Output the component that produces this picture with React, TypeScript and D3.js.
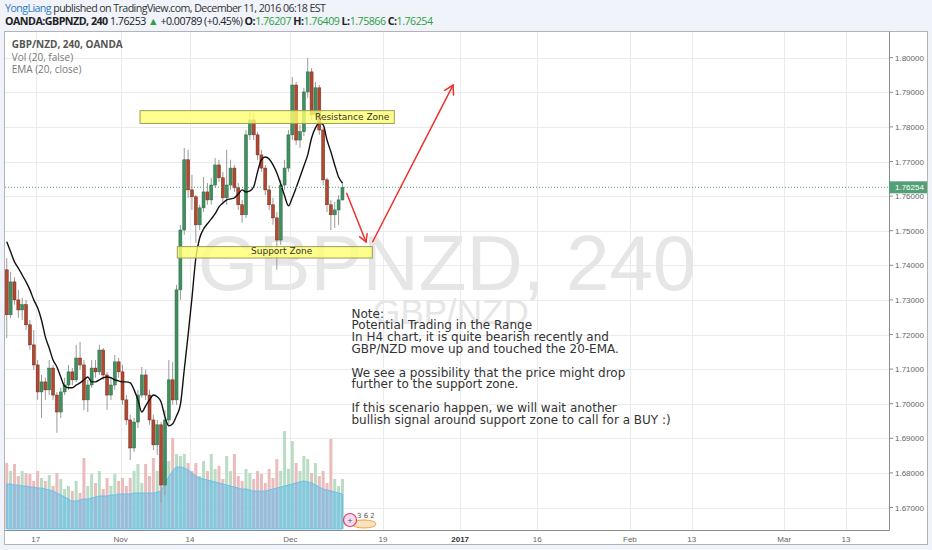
import * as d3 from "d3";

// two candles per trading session; candle k sits at session index k / 2 + 0.25
const opens = [
  1.7387, 1.7257, 1.7352, 1.73, 1.7271, 1.7286, 1.7228, 1.717, 1.7112, 1.7034,
  1.7063, 1.704, 1.7103, 1.7025, 1.6976, 1.7034, 1.7054, 1.7092, 1.7069, 1.7132,
  1.7112, 1.7011, 1.7054, 1.7103, 1.7092, 1.7155, 1.7083, 1.7025, 1.7054, 1.7121,
  1.7092, 1.7011, 1.6953, 1.6872, 1.6947, 1.7025, 1.7083, 1.7025, 1.6953, 1.6881,
  1.6939, 1.6765, 1.6953, 1.7069, 1.7011, 1.7329, 1.7502, 1.7705, 1.7618, 1.7598,
  1.7517, 1.7566, 1.7612, 1.7589, 1.7632, 1.769, 1.7653, 1.7595, 1.7632, 1.7681,
  1.7624, 1.7575, 1.7546, 1.7777, 1.782, 1.7777, 1.7719, 1.7681, 1.7618, 1.7575,
  1.7537, 1.7473, 1.7632, 1.7681, 1.7777, 1.7921, 1.7762, 1.7786, 1.7901, 1.7959,
  1.7835, 1.7913, 1.7791, 1.7647, 1.7575, 1.7546, 1.756, 1.7589,
];
const highs = [
  1.7421, 1.7381, 1.7366, 1.7329, 1.7306, 1.73, 1.7242, 1.7213, 1.7126, 1.7083,
  1.7075, 1.7126, 1.7112, 1.7034, 1.7046, 1.7075, 1.7112, 1.7103, 1.717, 1.7179,
  1.7126, 1.7069, 1.7126, 1.7126, 1.717, 1.7161, 1.7092, 1.7075, 1.7141, 1.7132,
  1.7112, 1.7025, 1.6968, 1.6959, 1.704, 1.7106, 1.7098, 1.704, 1.6968, 1.6953,
  1.6947, 1.6982, 1.7126, 1.7121, 1.7343, 1.7517, 1.7739, 1.7734, 1.7661, 1.7603,
  1.7575, 1.7655, 1.7638, 1.7653, 1.771, 1.7705, 1.767, 1.7734, 1.7705, 1.769,
  1.7638, 1.7589, 1.7791, 1.7843, 1.784, 1.7786, 1.7734, 1.769, 1.7632, 1.7595,
  1.7554, 1.7647, 1.7705, 1.7791, 1.7944, 1.793, 1.7806, 1.7913, 1.7999, 1.797,
  1.793, 1.7921, 1.7797, 1.7653, 1.7589, 1.7583, 1.7603, 1.7641,
];
const lows = [
  1.719, 1.7248, 1.7286, 1.7248, 1.7242, 1.7213, 1.7155, 1.7098, 1.7011, 1.6959,
  1.7011, 1.7025, 1.7011, 1.6916, 1.6959, 1.7025, 1.704, 1.7054, 1.7063, 1.7098,
  1.6982, 1.6976, 1.7046, 1.7075, 1.7083, 1.7069, 1.6982, 1.7011, 1.704, 1.7075,
  1.6997, 1.6939, 1.6837, 1.6861, 1.693, 1.7017, 1.7011, 1.6939, 1.6866, 1.6852,
  1.6713, 1.6736, 1.6939, 1.6997, 1.6997, 1.73, 1.7488, 1.7595, 1.756, 1.7465,
  1.7502, 1.7554, 1.7575, 1.7575, 1.7624, 1.7641, 1.7575, 1.7575, 1.7618, 1.7612,
  1.756, 1.7523, 1.7537, 1.7762, 1.7762, 1.7705, 1.767, 1.7603, 1.756, 1.7517,
  1.7387, 1.7459, 1.7618, 1.767, 1.7762, 1.7748, 1.7739, 1.7774, 1.7884, 1.782,
  1.7826, 1.7777, 1.7632, 1.7554, 1.7502, 1.7508, 1.7517, 1.7587,
];
const closes = [
  1.7257, 1.7352, 1.73, 1.7271, 1.7286, 1.7228, 1.717, 1.7112, 1.7034, 1.7063,
  1.704, 1.7103, 1.7025, 1.6976, 1.7034, 1.7054, 1.7092, 1.7069, 1.7132, 1.7112,
  1.7011, 1.7054, 1.7103, 1.7092, 1.7155, 1.7083, 1.7025, 1.7054, 1.7121, 1.7092,
  1.7011, 1.6953, 1.6872, 1.6947, 1.7025, 1.7083, 1.7025, 1.6953, 1.6881, 1.6939,
  1.6765, 1.6953, 1.7069, 1.7011, 1.7329, 1.7502, 1.7705, 1.7618, 1.7598, 1.7517,
  1.7566, 1.7612, 1.7589, 1.7632, 1.769, 1.7653, 1.7595, 1.7632, 1.7681, 1.7624,
  1.7575, 1.7546, 1.7777, 1.782, 1.7777, 1.7719, 1.7681, 1.7618, 1.7575, 1.7537,
  1.7473, 1.7632, 1.7681, 1.7777, 1.7921, 1.7762, 1.7786, 1.7901, 1.7959, 1.7835,
  1.7913, 1.7791, 1.7647, 1.7575, 1.7546, 1.756, 1.7589, 1.76254,
];
const volumes = [
  66, 58, 65, 53, 58, 56, 55, 48, 58, 51,
  48, 54, 43, 56, 50, 40, 43, 38, 48, 36,
  71, 43, 55, 46, 58, 40, 51, 43, 55, 48,
  51, 43, 51, 58, 65, 46, 65, 53, 71, 58,
  65, 81, 68, 91, 75, 73, 75, 66, 58, 66,
  53, 68, 58, 75, 60, 63, 50, 73, 58, 75,
  53, 48, 60, 56, 50, 58, 55, 46, 60, 51,
  70, 58, 98, 60, 88, 66, 58, 73, 70, 56,
  66, 53, 58, 46, 90, 50, 43, 50,
];
const volumeMa = [
  45, 45, 44, 44, 43, 43, 42, 42, 41, 41,
  40, 39, 38, 36, 34, 32, 30, 28, 28, 29,
  30, 30, 31, 32, 33, 33, 33, 34, 34, 35,
  35, 35, 35, 36, 36, 36, 36, 36, 36, 37,
  38, 46, 52, 58, 62, 62, 61, 59, 56, 53,
  51, 50, 49, 48, 47, 46, 45, 44, 43, 42,
  41, 40, 40, 39, 38, 38, 38, 38, 39, 40,
  41, 42, 43, 44, 45, 46, 47, 48, 47, 46,
  44, 42, 40, 39, 38, 37, 36, 35,
];
const ema20 = [
  1.7468, 1.7439, 1.741, 1.7392, 1.7372, 1.7352, 1.7329, 1.73, 1.7277, 1.7242,
  1.7193, 1.7161, 1.7126, 1.7106, 1.7077, 1.7051, 1.7046, 1.7046, 1.7054, 1.706,
  1.7069, 1.7077, 1.7063, 1.7063, 1.7069, 1.7075, 1.7077, 1.7075, 1.7069, 1.7066,
  1.7063, 1.7063, 1.706, 1.704, 1.7011, 1.6976, 1.6994, 1.7011, 1.7025, 1.702,
  1.7005, 1.6962, 1.6936, 1.6942, 1.6965, 1.6997, 1.7098, 1.7199, 1.7306, 1.7421,
  1.7479, 1.7505, 1.752, 1.7534, 1.7549, 1.7569, 1.758, 1.7589, 1.7592, 1.7595,
  1.7606, 1.7618, 1.7612, 1.7615, 1.7627, 1.767, 1.7705, 1.7713, 1.7707, 1.769,
  1.7667, 1.7635, 1.7601, 1.7572, 1.7595, 1.7624, 1.7655, 1.7687, 1.7719, 1.7768,
  1.7797, 1.7812, 1.7806, 1.7762, 1.7728, 1.769, 1.7655, 1.7638,
];

const priceTicks = [1.67, 1.68, 1.69, 1.7, 1.71, 1.72, 1.73, 1.74, 1.75, 1.76, 1.77, 1.78, 1.79, 1.8];
const timeTicks = [
  { date: "2016-10-17", label: "17" },
  { date: "2016-11-01", label: "Nov" },
  { date: "2016-11-14", label: "14" },
  { date: "2016-12-01", label: "Dec" },
  { date: "2016-12-19", label: "19" },
  { date: "2017-01-01", label: "2017" },
  { date: "2017-01-16", label: "16" },
  { date: "2017-02-01", label: "Feb" },
  { date: "2017-02-13", label: "13" },
  { date: "2017-03-01", label: "Mar" },
  { date: "2017-03-13", label: "13" },
];
const lastPrice = 1.76254;

// drawings: session index from / to, price top / bottom
const zones = [
  { label: "Resistance Zone", t0: 17.52, t1: 50.47, top: 1.7847, bottom: 1.781, labelT: 40.2 },
  { label: "Support Zone", t0: 22.35, t1: 47.62, top: 1.7454, bottom: 1.7421, labelT: 31.9 },
];
const arrows = [
  { t0: 44.3, p0: 1.7608, t1: 46.8, p1: 1.7468 },
  { t0: 47.67, p0: 1.7468, t1: 58.08, p1: 1.7921 },
];
const noteLines = [
  "Note:",
  "Potential Trading in the Range",
  "In H4 chart, it is quite bearish recently and",
  "GBP/NZD move up and touched the 20-EMA.",
  "",
  "We see a possibility that the price might drop",
  "further to the support zone.",
  "",
  "If this scenario happen, we will wait another",
  "bullish signal around support zone to call for a BUY :)",
];

const START = new Date(Date.UTC(2016, 9, 11));
function sessionIndex(iso: string) {
  const d = new Date(iso + "T00:00:00Z");
  return d3.utcDays(START, d).filter((v) => v.getUTCDay() !== 0 && v.getUTCDay() !== 6).length;
}

const UP = "#3f8f5f";
const DOWN = "#b4472f";

export default function App() {
  const x = d3.scaleLinear().domain([0, 114.5]).range([4.83, 4.83 + 7.717 * 114.5]);
  const y = d3.scaleLinear().domain([1.67, 1.8]).range([507.5, 57.7]);
  const yVol = d3.scaleLinear().domain([0, 100]).range([529, 429]);
  const cx = (i: number) => x(i / 2 + 0.25);
  const bw = 3;

  const emaLine = d3
    .line<number>()
    .x((_, i) => cx(i))
    .y((d) => y(d))
    .curve(d3.curveMonotoneX);
  const volArea = d3
    .area<number>()
    .x((_, i) => cx(i))
    .y0(yVol(0))
    .y1((d) => yVol(d))
    .curve(d3.curveMonotoneX);

  const plotL = 5, plotR = 889, plotT = 32, plotB = 530;
  const midX = (plotL + plotR) / 2;

  return (
    <svg width={932} height={550} style={{ position: "absolute", left: 0, top: 0 }}>
      <defs>
        <clipPath id="plot">
          <rect x={plotL} y={plotT} width={plotR - plotL} height={plotB - plotT} />
        </clipPath>
      </defs>
      <rect width={932} height={550} fill="#f0f3fa" />
      <rect x={4.5} y={31.5} width={923} height={513} fill="#fff" stroke="#b4b4b4" />

      {/* header */}
      <text x={5} y={11.5} fontFamily="Open Sans" fontSize={10.7} fill="#333" textLength={321} lengthAdjust="spacing">
        <tspan fill="#2e7bbf">YongLiang</tspan>
        {" published on TradingView.com, December 11, 2016 06:18 EST"}
      </text>
      <text x={5} y={25} fontFamily="Open Sans" fontSize={10.7} fill="#222" textLength={428} lengthAdjust="spacing">
        <tspan fontWeight="bold">OANDA:GBPNZD, 240</tspan>
        <tspan>{" 1.76253 "}</tspan>
        <tspan fill="#2ea043">▲</tspan>
        <tspan>{" +0.00789 (+0.45%) "}</tspan>
        <tspan fontWeight="bold">O:</tspan>
        <tspan fill="#2ea043">{"1.76207 "}</tspan>
        <tspan fontWeight="bold">H:</tspan>
        <tspan fill="#2ea043">{"1.76409 "}</tspan>
        <tspan fontWeight="bold">L:</tspan>
        <tspan fill="#2ea043">{"1.75866 "}</tspan>
        <tspan fontWeight="bold">C:</tspan>
        <tspan fill="#2ea043">1.76254</tspan>
      </text>

      <g clipPath="url(#plot)">
        {/* grid */}
        {priceTicks.map((p) => (
          <line key={p} x1={plotL} x2={plotR} y1={Math.round(y(p)) + 0.5} y2={Math.round(y(p)) + 0.5} stroke="#ebebeb" />
        ))}
        {timeTicks.map((t) => {
          const xx = Math.round(x(sessionIndex(t.date))) + 0.5;
          return <line key={t.date} x1={xx} x2={xx} y1={plotT} y2={plotB} stroke="#ebebeb" />;
        })}

        {/* watermark */}
        <text x={midX} y={290} textAnchor="middle" fontFamily="Liberation Sans" fontSize={78} fill="#e6e6e6">
          GBPNZD, 240
        </text>
        <text x={midX + 4} y={324} textAnchor="middle" fontFamily="Liberation Sans" fontSize={35} fill="#e6e6e6">
          GBP/NZD
        </text>

        {/* volume */}
        {volumes.map((v, i) => (
          <rect
            key={i}
            x={cx(i) - 1.5}
            y={yVol(v)}
            width={3}
            height={yVol(0) - yVol(v)}
            fill={closes[i] >= opens[i] ? "#b9dcc4" : "#ebbcbc"}
          />
        ))}
        <path d={volArea(volumeMa) || ""} fill="#5cb9e8" fillOpacity={0.55} stroke="#6cc0ea" strokeWidth={1} />

        {/* candles */}
        {closes.map((c, i) => {
          const o = opens[i];
          const up = c >= o;
          const top = y(Math.max(o, c));
          const bot = y(Math.min(o, c));
          return (
            <g key={i}>
              <line x1={cx(i)} x2={cx(i)} y1={y(highs[i])} y2={y(lows[i])} stroke="#9a9a9a" strokeWidth={1} />
              <rect
                x={cx(i) - bw / 2}
                y={top}
                width={bw}
                height={Math.max(1, bot - top)}
                fill={up ? UP : DOWN}
                stroke={up ? "#2d6a45" : "#6e2a1c"}
                strokeWidth={0.5}
              />
            </g>
          );
        })}

        {/* EMA */}
        <path d={emaLine(ema20) || ""} fill="none" stroke="#111" strokeWidth={1.4} />

        {/* last price line */}
        <line x1={plotL} x2={plotR} y1={y(lastPrice)} y2={y(lastPrice)} stroke="#53a077" strokeDasharray="1 2" />

        {/* zones */}
        {zones.map((z) => (
          <g key={z.label}>
            <rect
              x={x(z.t0)}
              y={y(z.top)}
              width={x(z.t1) - x(z.t0)}
              height={y(z.bottom) - y(z.top)}
              fill="#ffff70"
              fillOpacity={0.8}
              stroke="#9c9c5a"
              strokeWidth={1}
            />
            <text x={x(z.labelT)} y={y(z.bottom) - 3.8} fontFamily="DejaVu Sans" fontSize={9} fill="#333">
              {z.label}
            </text>
          </g>
        ))}

        {/* arrows */}
        {arrows.map((a, i) => {
          const x0 = x(a.t0), y0 = y(a.p0), x1 = x(a.t1), y1 = y(a.p1);
          const ang = Math.atan2(y0 - y1, x0 - x1);
          const len = i === 0 ? 8 : 10;
          const h1 = [x1 + len * Math.cos(ang + Math.PI / 6), y1 + len * Math.sin(ang + Math.PI / 6)];
          const h2 = [x1 + len * Math.cos(ang - Math.PI / 6), y1 + len * Math.sin(ang - Math.PI / 6)];
          return (
            <g key={i} stroke="#f0302c" strokeWidth={1.5} fill="none" strokeLinecap="round">
              <line x1={x0} y1={y0} x2={x1} y2={y1} />
              <polyline points={`${h1[0]},${h1[1]} ${x1},${y1} ${h2[0]},${h2[1]}`} />
            </g>
          );
        })}

        {/* note */}
        <text fontFamily="DejaVu Sans" fontSize={12} fill="#333">
          {noteLines.map((l, i) => (
            <tspan key={i} x={351.5} y={317.5 + i * 11.8}>
              {l}
            </tspan>
          ))}
        </text>

        {/* small logo */}
        <g>
          <ellipse cx={364} cy={524} rx={12} ry={4} fill="#fbe3c0" stroke="#f0a040" strokeWidth={1} />
          <circle cx={350} cy={520} r={6.5} fill="#f7dcea" stroke="#e0406a" strokeWidth={1.2} />
          <text x={350} y={523} textAnchor="middle" fontFamily="DejaVu Sans" fontSize={7} fill="#3b4fa0">+</text>
          <text x={357} y={518} fontFamily="DejaVu Sans" fontSize={7} fill="#555">3 6 2</text>
        </g>
      </g>

      {/* legend */}
      <text x={11.7} y={47.5} fontFamily="Open Sans" fontSize={10} fontWeight="bold" fill="#555">
        GBP/NZD, 240, OANDA
      </text>
      <text x={11.7} y={60.5} fontFamily="Open Sans" fontSize={10} fill="#777">
        Vol (20, false)
      </text>
      <text x={11.7} y={72.5} fontFamily="Open Sans" fontSize={10} fill="#777">
        EMA (20, close)
      </text>

      {/* axes */}
      <line x1={plotR + 0.5} x2={plotR + 0.5} y1={31.5} y2={plotB + 0.5} stroke="#8c8c8c" />
      <line x1={4.5} x2={plotR + 0.5} y1={plotB + 0.5} y2={plotB + 0.5} stroke="#8c8c8c" />
      {priceTicks.map((p) => (
        <g key={p}>
          <line x1={plotR} x2={plotR + 4} y1={y(p)} y2={y(p)} stroke="#8c8c8c" />
          <text x={895} y={y(p) + 3} fontFamily="Liberation Sans" fontSize={8} fill="#666">
            {d3.format(".5f")(p)}
          </text>
        </g>
      ))}
      <rect x={plotR} y={y(lastPrice) - 6} width={38} height={12} fill="#53a077" />
      <text x={895} y={y(lastPrice) + 3} fontFamily="Liberation Sans" fontSize={8} fill="#fff">
        {d3.format(".5f")(lastPrice)}
      </text>
      {timeTicks.map((t) => (
        <text
          key={t.date}
          x={x(sessionIndex(t.date))}
          y={542}
          textAnchor="middle"
          fontFamily="Liberation Sans"
          fontSize={8}
          fontWeight={t.label === "2017" ? "bold" : "normal"}
          fill={t.label === "2017" ? "#333" : "#666"}
        >
          {t.label}
        </text>
      ))}
    </svg>
  );
}
